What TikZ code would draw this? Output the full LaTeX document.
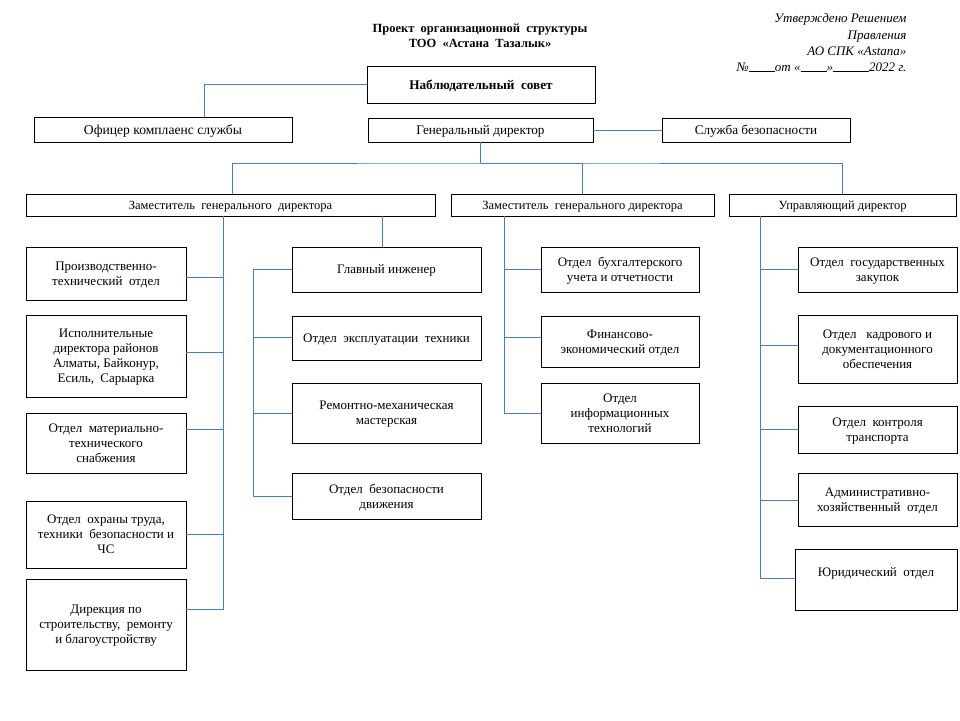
\documentclass[tikz,border=0pt]{standalone}
\usepackage{fontspec}
\setmainfont{Liberation Serif}
\definecolor{linkblue}{RGB}{74,126,187}
\begin{document}
\begin{tikzpicture}[x=1pt, y=-1pt,
                    box/.style 2 args={draw, line width=0.8pt, minimum width=#1pt, minimum height=#2pt,
                                       inner sep=0pt, align=center, text depth=0pt,
                                       font=\fontsize{13}{15}\selectfont},
                    link/.style={draw=linkblue, line width=0.9pt}]
\useasboundingbox (0,0) rectangle (960,720);
\node[font=\bfseries\fontsize{12.5}{15}\selectfont, align=center] (title) at (480,35.5)
    {Проект\ \ организационной\ \ структуры\\ТОО\ \ «Астана\ \ Тазалык»};
\node[font=\itshape\fontsize{13}{16.3}\selectfont, align=right, anchor=east] (appr) at (910,43)
    {Утверждено Решением\\Правления\\АО СПК «Astana»\\№\rule{26pt}{0.5pt}от «\rule{26pt}{0.5pt}»\rule{36pt}{0.5pt}2022 г.};
\node[box={228}{37}, font=\bfseries\fontsize{13.2}{15}\selectfont] (ns) at (481,84.5) {Наблюдательный\ \ совет};
\node[box={258}{25}, font=\fontsize{13.6}{15}\selectfont] (ofc) at (163,129.5) {Офицер комплаенс службы};
\node[box={225}{24}, font=\fontsize{13.2}{15}\selectfont] (gd) at (480.5,130) {Генеральный директор};
\node[box={188}{24}, font=\fontsize{13.2}{15}\selectfont] (sb) at (756,130) {Служба безопасности};
\node[box={409}{22}, font=\fontsize{12.5}{15}\selectfont] (dep1) at (230.5,205) {Заместитель\ \ генерального\ \ директора};
\node[box={263}{22}, font=\fontsize{12.5}{15}\selectfont] (dep2) at (582.5,205) {Заместитель\ \ генерального директора};
\node[box={227}{22}, font=\fontsize{12.5}{15}\selectfont] (dir) at (842.5,205) {Управляющий директор};
\node[box={160}{53}] (ptd) at (106,273.5) {Производственно-\\технический\ \ отдел};
\node[box={160}{82}] (isp) at (106,356) {Исполнительные\\директора районов\\Алматы, Байконур,\\Есиль,\ \ Сарыарка};
\node[box={160}{60}] (mts) at (106,443) {Отдел\ \ материально-\\технического\\снабжения};
\node[box={160}{67}] (ohr) at (106,534.5) {Отдел\ \ охраны труда,\\техники\ \ безопасности и\\ЧС};
\node[box={160}{91}] (dsr) at (106,624.5) {Дирекция по\\строительству,\ \ ремонту\\и благоустройству};
\node[box={189}{45}] (gin) at (386.5,269.5) {Главный инженер};
\node[box={189}{44}] (exp) at (386.5,338) {Отдел\ \ эксплуатации\ \ техники};
\node[box={189}{60}] (rem) at (386.5,413) {Ремонтно-механическая\\мастерская};
\node[box={189}{46}] (bdv) at (386.5,496) {Отдел\ \ безопасности\\движения};
\node[box={158}{45}] (buh) at (620,269.5) {Отдел\ \ бухгалтерского\\учета и отчетности};
\node[box={158}{51}] (fin) at (620,341.5) {Финансово-\\экономический отдел};
\node[box={158}{60}] (itd) at (620,413) {Отдел\\информационных\\технологий};
\node[box={159}{45}] (zak) at (877.5,269.5) {Отдел\ \ государственных\\закупок};
\node[box={159}{68}] (kad) at (877.5,349) {Отдел\ \ \ кадрового и\\документационного\\обеспечения};
\node[box={159}{47}] (ktr) at (877.5,429.5) {Отдел\ \ контроля\\транспорта};
\node[box={159}{53}] (ahd) at (877.5,499.5) {Административно-\\хозяйственный\ \ отдел};
\node[box={162}{61}, text depth=14.5pt] (yur) at (876,579.5) {Юридический\ \ отдел};
\draw[link] (ns.west) -| ([xshift=41.5pt]ofc.north);
\draw[link] (gd.east) -- (sb.west);
\coordinate (bus) at (480.5,163);
\draw[link] (gd.south) -- (bus);
\draw[link] ([xshift=1.5pt]dep1.north) |- (bus) -| (dir.north);
\draw[link] (bus) -| (dep2.north);
\coordinate (t1) at ([xshift=-7.5pt]dep1.south);
\foreach \n/\s in {ptd/-3.5, isp/4, mts/14, ohr/0.5, dsr/15.5}
    \draw[link] (t1) |- ([yshift=\s pt]\n.east);
\draw[link] ([xshift=-4.5pt]gin.north) -- ([xshift=-4.5pt]gin.north |- dep1.south);
\coordinate (t2) at ([xshift=-38.5pt]gin.west);
\foreach \n/\s in {gin/0, exp/1, rem/0, bdv/0}
    \draw[link] (t2) |- ([yshift=\s pt]\n.west);
\coordinate (t3) at ([xshift=-78.5pt]dep2.south);
\foreach \n/\s in {buh/0.5, fin/4.5, itd/0}
    \draw[link] (t3) |- ([yshift=\s pt]\n.west);
\coordinate (t4) at ([xshift=-82.5pt]dir.south);
\foreach \n/\s in {zak/0.5, kad/4, ktr/0.5, ahd/-0.5, yur/1.5}
    \draw[link] (t4) |- ([yshift=\s pt]\n.west);
\end{tikzpicture}
\end{document}
